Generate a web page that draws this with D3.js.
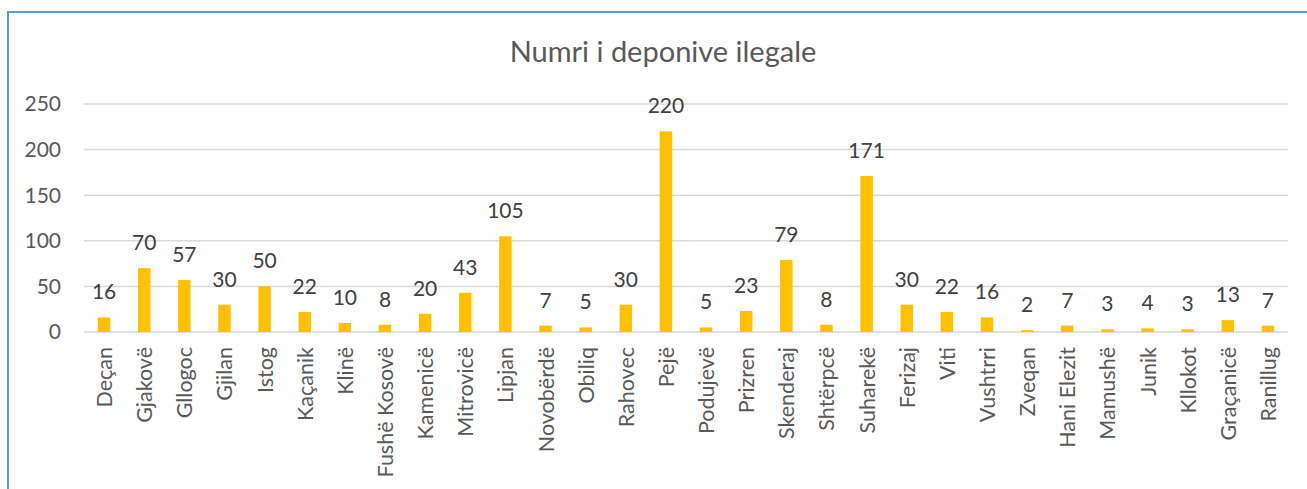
<!DOCTYPE html>
<html lang="sq">
<head>
<meta charset="UTF-8">
<title>Numri i deponive ilegale</title>
<script src="https://d3js.org/d3.v7.min.js"></script>
<style>
  body { margin: 0; background: #fff; }
  svg text { font-family: Lato, "Open Sans", sans-serif; }
</style>
</head>
<body>
<svg id="chart" width="1307" height="489"></svg>
<script>
const categories = ["Deçan", "Gjakovë", "Gllogoc", "Gjilan", "Istog", "Kaçanik", "Klinë", "Fushë Kosovë",
  "Kamenicë", "Mitrovicë", "Lipjan", "Novobërdë", "Obiliq", "Rahovec", "Pejë", "Podujevë", "Prizren",
  "Skenderaj", "Shtërpcë", "Suharekë", "Ferizaj", "Viti", "Vushtrri", "Zveqan", "Hani Elezit",
  "Mamushë", "Junik", "Kllokot", "Graçanicë", "Ranillug"];
const values = [16, 70, 57, 30, 50, 22, 10, 8, 20, 43, 105, 7, 5, 30, 220, 5, 23, 79, 8, 171,
  30, 22, 16, 2, 7, 3, 4, 3, 13, 7];
const yTicks = [0, 50, 100, 150, 200, 250];
const title = "Numri i deponive ilegale";

const svg = d3.select("#chart");

// chart frame (right and bottom edges fall outside the picture)
svg.append("rect")
  .attr("x", 8).attr("y", 12)
  .attr("width", 1310).attr("height", 490)
  .attr("fill", "none")
  .attr("stroke", "#5b9bd5")
  .attr("stroke-width", 2);

const plotL = 84, plotR = 1288, plotT = 104, plotB = 332;

const x = d3.scaleBand().domain(categories).range([plotL, plotR]).paddingInner(0.69).paddingOuter(0.345);
const y = d3.scaleLinear().domain([0, 250]).range([plotB, plotT]);

svg.append("text")
  .attr("x", 663).attr("y", 62)
  .attr("text-anchor", "middle")
  .attr("font-size", 29)
  .attr("fill", "#595959")
  .text(title);

// grid
svg.append("g").selectAll("line").data(yTicks).join("line")
  .attr("x1", plotL).attr("x2", plotR)
  .attr("y1", d => y(d)).attr("y2", d => y(d))
  .attr("stroke", "#d9d9d9").attr("stroke-width", 1.5);

// y axis labels
svg.append("g").selectAll("text").data(yTicks).join("text")
  .attr("x", 61).attr("y", d => y(d))
  .attr("dy", "0.35em")
  .attr("text-anchor", "end")
  .attr("font-size", 21)
  .attr("fill", "#595959")
  .text(d => d);

// bars
svg.append("g").selectAll("rect").data(values).join("rect")
  .attr("x", (d, i) => x(categories[i]))
  .attr("width", x.bandwidth())
  .attr("y", d => y(d))
  .attr("height", d => y(0) - y(d))
  .attr("fill", "#ffc000");

// data labels
svg.append("g").selectAll("text").data(values).join("text")
  .attr("x", (d, i) => x(categories[i]) + x.bandwidth() / 2)
  .attr("y", d => y(d) - 18)
  .attr("text-anchor", "middle")
  .attr("font-size", 21)
  .attr("fill", "#404040")
  .text(d => d);

// category labels, rotated
svg.append("g").selectAll("text").data(categories).join("text")
  .attr("transform", d => `translate(${x(d) + x.bandwidth() / 2 + 8},347) rotate(-90)`)
  .attr("text-anchor", "end")
  .attr("font-size", 21.5)
  .attr("fill", "#595959")
  .text(d => d);
</script>
</body>
</html>
